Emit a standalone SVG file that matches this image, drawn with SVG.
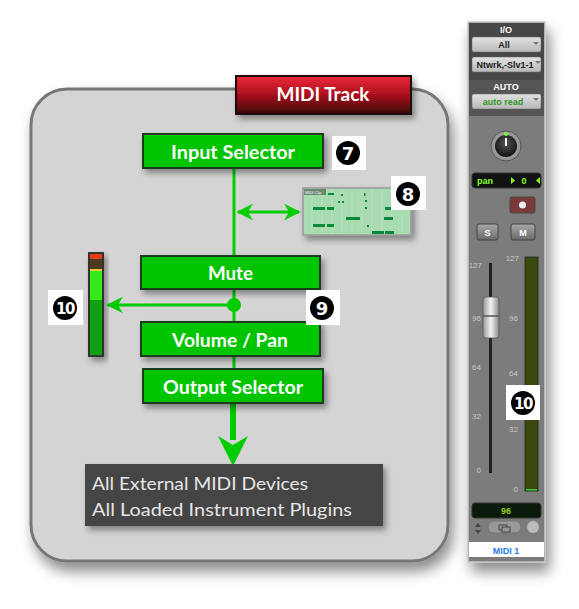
<svg xmlns="http://www.w3.org/2000/svg" width="579" height="609" viewBox="0 0 579 609">
<defs>
<filter id="sh" x="-20%" y="-20%" width="150%" height="150%"><feDropShadow dx="4" dy="9" stdDeviation="7" flood-color="#000" flood-opacity="0.45"/></filter>
<filter id="sh2" x="-20%" y="-20%" width="150%" height="150%"><feDropShadow dx="3" dy="4" stdDeviation="3" flood-color="#000" flood-opacity="0.4"/></filter>
<linearGradient id="red" x1="0" y1="0" x2="0" y2="1"><stop offset="0" stop-color="#ee2a3a"/><stop offset="0.5" stop-color="#a8101c"/><stop offset="1" stop-color="#3a0508"/></linearGradient>
<linearGradient id="btn" x1="0" y1="0" x2="0" y2="1"><stop offset="0" stop-color="#e2e2e2"/><stop offset="1" stop-color="#b8b8b8"/></linearGradient>
<linearGradient id="btn2" x1="0" y1="0" x2="0" y2="1"><stop offset="0" stop-color="#a8a8a8"/><stop offset="1" stop-color="#6a6a6a"/></linearGradient>
<linearGradient id="cap" x1="0" y1="0" x2="1" y2="0"><stop offset="0" stop-color="#9a9a9a"/><stop offset="0.5" stop-color="#f2f2f2"/><stop offset="1" stop-color="#8a8a8a"/></linearGradient>
<radialGradient id="knob" cx="0.5" cy="0.4" r="0.6"><stop offset="0" stop-color="#555"/><stop offset="1" stop-color="#111"/></radialGradient>
<marker id="ah" viewBox="0 0 10 10" refX="9" refY="5" markerWidth="5.5" markerHeight="5.5" orient="auto-start-reverse"><path d="M0,0 L10,5 L0,10 L3,5 Z" fill="#00cc00"/></marker>
</defs>
<style>
.box{fill:#00c400;stroke:#1a3a1a;stroke-width:2}
.bt{font-family:Lato,"Open Sans",sans-serif;font-weight:bold;fill:#fff;font-size:18.5px;text-anchor:middle}
.wire{stroke:#00cc00;stroke-width:3;fill:none}
.badge rect{fill:#fff}
.badge circle{fill:#000}
.badge text{font-family:"DejaVu Sans",sans-serif;font-weight:bold;fill:#fff;text-anchor:middle}
.sl{font-family:"Liberation Sans",Arial,sans-serif;font-size:8px;fill:#c8c8c8;text-anchor:end}
.dd{fill:url(#btn);stroke:#666;stroke-width:0.5}
.ddt{font-family:"Liberation Sans",Arial,sans-serif;font-size:9px;font-weight:bold;text-anchor:middle}
.dest{font-family:Lato,"Open Sans",sans-serif;font-size:18px;fill:#e6e6e6}
</style>

<g id="panel">
<rect x="31" y="89" width="417" height="472" rx="36" fill="#d4d4d4" stroke="#777" stroke-width="3" filter="url(#sh)"/>
</g>

<g id="title">
<rect x="236" y="76" width="175" height="38" fill="url(#red)" stroke="#1a0a0a" stroke-width="2" filter="url(#sh2)"/>
<text x="323" y="101" class="bt" textLength="93" lengthAdjust="spacingAndGlyphs">MIDI Track</text>
</g>

<g id="connectors">
<line x1="234" y1="168" x2="234" y2="256" class="wire"/>
<line x1="234" y1="289" x2="234" y2="322" class="wire"/>
<line x1="234" y1="355" x2="234" y2="369" class="wire"/>
<line x1="238" y1="212" x2="299" y2="212" class="wire" marker-start="url(#ah)" marker-end="url(#ah)"/>
<line x1="234" y1="305" x2="108" y2="305" class="wire" marker-end="url(#ah)"/>
<circle cx="234" cy="305" r="7" fill="#00cc00"/>
<line x1="233" y1="403" x2="233" y2="440" stroke="#00cc00" stroke-width="6"/>
<path d="M218,436 L233,445 L248,436 L233,466 Z" fill="#00cc00"/>
</g>

<g id="input-selector">
<rect x="143" y="134" width="180" height="34" class="box" filter="url(#sh2)"/>
<text x="233" y="159" class="bt" textLength="124" lengthAdjust="spacingAndGlyphs">Input Selector</text>
</g>

<g id="midi-clip">
<rect x="303" y="188" width="108" height="47" fill="#a8dcb0" stroke="#999" stroke-width="1.5" filter="url(#sh2)"/>
<g stroke="#c0e8c4" stroke-width="0.5">
<line x1="312" y1="189" x2="312" y2="234"/><line x1="322" y1="189" x2="322" y2="234"/><line x1="332" y1="189" x2="332" y2="234"/><line x1="342" y1="189" x2="342" y2="234"/><line x1="352" y1="189" x2="352" y2="234"/><line x1="362" y1="189" x2="362" y2="234"/><line x1="372" y1="189" x2="372" y2="234"/><line x1="382" y1="189" x2="382" y2="234"/><line x1="392" y1="189" x2="392" y2="234"/><line x1="402" y1="189" x2="402" y2="234"/>
</g>
<rect x="304" y="189" width="22" height="6" fill="#6a8a70"/>
<text x="305" y="194" font-family="Liberation Sans,sans-serif" font-size="4" fill="#fff">MIDI Clip</text>
<g fill="#0a8a3a">
<rect x="313" y="207" width="12" height="3"/><rect x="327" y="207" width="7" height="3"/>
<rect x="313" y="224" width="12" height="3"/><rect x="327" y="224" width="7" height="3"/>
<rect x="346" y="217" width="14" height="3"/>
<rect x="328" y="193" width="6" height="2"/><rect x="341" y="194" width="2" height="2"/>
<rect x="338" y="201" width="2" height="2"/><rect x="342" y="201" width="2" height="2"/>
<rect x="364" y="193" width="1.5" height="3"/><rect x="365" y="200" width="2" height="2"/><rect x="365" y="207" width="2" height="2"/><rect x="367" y="225" width="2" height="2"/>
<rect x="385" y="207" width="10" height="3"/><rect x="384" y="217" width="9" height="3"/>
<rect x="372" y="231" width="12" height="3"/><rect x="385" y="231" width="9" height="3"/>
</g>
</g>

<g id="mute">
<rect x="141" y="256" width="179" height="33" class="box" filter="url(#sh2)"/>
<text x="230.5" y="280" class="bt" textLength="45" lengthAdjust="spacingAndGlyphs">Mute</text>
</g>

<g id="volume-pan">
<rect x="141" y="322" width="179" height="34" class="box" filter="url(#sh2)"/>
<text x="230" y="347" class="bt" textLength="116" lengthAdjust="spacingAndGlyphs">Volume / Pan</text>
</g>

<g id="output-selector">
<rect x="143" y="369" width="180" height="34" class="box" filter="url(#sh2)"/>
<text x="233" y="394" class="bt" textLength="140" lengthAdjust="spacingAndGlyphs">Output Selector</text>
</g>

<g id="destinations">
<rect x="85" y="464" width="298" height="62" fill="#444" filter="url(#sh2)"/>
<text x="92" y="490" class="dest" textLength="216" lengthAdjust="spacingAndGlyphs">All External MIDI Devices</text>
<text x="92" y="516" class="dest" textLength="260" lengthAdjust="spacingAndGlyphs">All Loaded Instrument Plugins</text>
</g>

<g id="meter">
<rect x="88" y="252" width="16" height="105" fill="#333" filter="url(#sh2)"/>
<rect x="90" y="254" width="12" height="5" fill="#e83a10"/>
<rect x="90" y="259" width="12" height="10" fill="#4a3a20"/>
<rect x="90" y="269" width="12" height="2" fill="#e8d020"/>
<rect x="90" y="271" width="12" height="29" fill="#38e818"/>
<rect x="90" y="300" width="12" height="55" fill="#10a010"/>
</g>

<g id="badge-7" class="badge"><rect x="332" y="136" width="34" height="34"/><circle cx="348" cy="153" r="12"/><text x="348" y="160" font-size="18">7</text></g>
<g id="badge-8" class="badge"><rect x="391" y="176" width="35" height="34"/><circle cx="408" cy="194" r="12"/><text x="408" y="201" font-size="18">8</text></g>
<g id="badge-9" class="badge"><rect x="306" y="290" width="34" height="35"/><circle cx="322" cy="308" r="12"/><text x="322" y="315" font-size="18">9</text></g>
<g id="badge-10" class="badge"><rect x="48" y="290" width="35" height="35"/><circle cx="65" cy="308" r="12"/><text x="65" y="314" font-size="15" letter-spacing="-1.5">10</text></g>

<g id="channel-strip">
<rect x="468" y="22" width="77" height="540" fill="#7c7c7c" stroke="#c8c8c8" stroke-width="1.5" filter="url(#sh)"/>
<rect x="469" y="23" width="75" height="57" fill="#474747"/>
<text x="506" y="33" class="ddt" fill="#fff">I/O</text>
<rect x="472" y="37" width="69" height="15" rx="2" class="dd"/>
<text x="504" y="48" class="ddt" fill="#222">All</text>
<path d="M533,42 L539,42 L536,45 Z" fill="#777"/>
<rect x="472" y="57" width="69" height="15" rx="2" class="dd"/>
<text x="505" y="68" class="ddt" fill="#222" font-size="8.5">Ntwrk,-Slv1-1</text>
<path d="M535,61 L541,61 L538,64 Z" fill="#777"/>
<rect x="469" y="80" width="75" height="36" fill="#555"/>
<text x="506" y="90" class="ddt" fill="#fff">AUTO</text>
<rect x="472" y="94" width="69" height="15" rx="2" class="dd"/>
<text x="503" y="105" class="ddt" fill="#2a9a20">auto read</text>
<path d="M533,98 L539,98 L536,101 Z" fill="#777"/>
<circle cx="506" cy="146" r="15" fill="#999" stroke="#555" stroke-width="1"/>
<circle cx="506" cy="146" r="11" fill="url(#knob)"/>
<line x1="506" y1="138" x2="506" y2="146" stroke="#fff" stroke-width="2"/>
<circle cx="506" cy="134" r="2" fill="#7f3"/>
<rect x="472" y="173" width="69" height="15" rx="3" fill="#111" stroke="#333"/>
<text x="477" y="184" font-family="Liberation Sans,sans-serif" font-size="9" font-weight="bold" fill="#8f2">pan</text>
<path d="M511,177 L515,180.5 L511,184 Z" fill="#8f2"/>
<text x="524" y="184" font-family="Liberation Sans,sans-serif" font-size="9" font-weight="bold" fill="#8f2" text-anchor="middle">0</text>
<path d="M540,177 L536,180.5 L540,184 Z" fill="#8f2"/>
<rect x="510" y="197" width="25" height="16" rx="2" fill="#7a3a3a" stroke="#444"/>
<circle cx="522.5" cy="205" r="3.5" fill="#eee"/>
<rect x="477" y="224" width="21" height="16" rx="2" fill="url(#btn2)" stroke="#444"/>
<text x="487.5" y="236" class="ddt" fill="#fff" font-size="10">S</text>
<rect x="511" y="224" width="24" height="16" rx="2" fill="url(#btn2)" stroke="#444"/>
<text x="523" y="236" class="ddt" fill="#fff" font-size="10">M</text>
<rect x="489" y="263" width="3" height="210" fill="#222"/>
<text x="482" y="268" class="sl">127</text><text x="481" y="321" class="sl">96</text><text x="481" y="370" class="sl">64</text><text x="481" y="419" class="sl">32</text><text x="481" y="473" class="sl">0</text>
<text x="519" y="261" class="sl">127</text><text x="518" y="321" class="sl">96</text><text x="518" y="376" class="sl">64</text><text x="518" y="432" class="sl">32</text><text x="518" y="492" class="sl">0</text>
<rect x="483" y="297" width="16" height="41" rx="3" fill="url(#cap)" stroke="#555" stroke-width="0.8"/>
<line x1="483" y1="316" x2="499" y2="316" stroke="#555" stroke-width="1.5"/>
<rect x="525" y="257" width="13" height="234" fill="#3a4a0c" stroke="#222" stroke-width="0.8"/>
<rect x="526" y="489" width="11" height="1.5" fill="#3c3"/>
<rect x="472" y="503" width="69" height="15" rx="3" fill="#0a1a0a" stroke="#333"/>
<text x="506" y="514" class="ddt" fill="#9c2">96</text>
<path d="M475,527 L478,523 L481,527 Z M475,530 L478,534 L481,530 Z" fill="#444"/>
<rect x="488" y="521" width="33" height="12" rx="6" fill="#999" stroke="#777"/>
<rect x="499" y="525" width="8" height="5" fill="none" stroke="#444"/>
<rect x="502" y="527" width="8" height="5" fill="#999" stroke="#444"/>
<circle cx="533" cy="527" r="6" fill="#bbb"/>
<rect x="469" y="542" width="75" height="15" fill="#fff"/>
<text x="506" y="554" class="ddt" fill="#2a7ae0" font-size="10">MIDI 1</text>
</g>
<g id="badge-10b" class="badge"><rect x="506" y="385" width="34" height="35"/><circle cx="523" cy="403" r="12"/><text x="523" y="409" font-size="15" letter-spacing="-1.5">10</text></g>
</svg>
